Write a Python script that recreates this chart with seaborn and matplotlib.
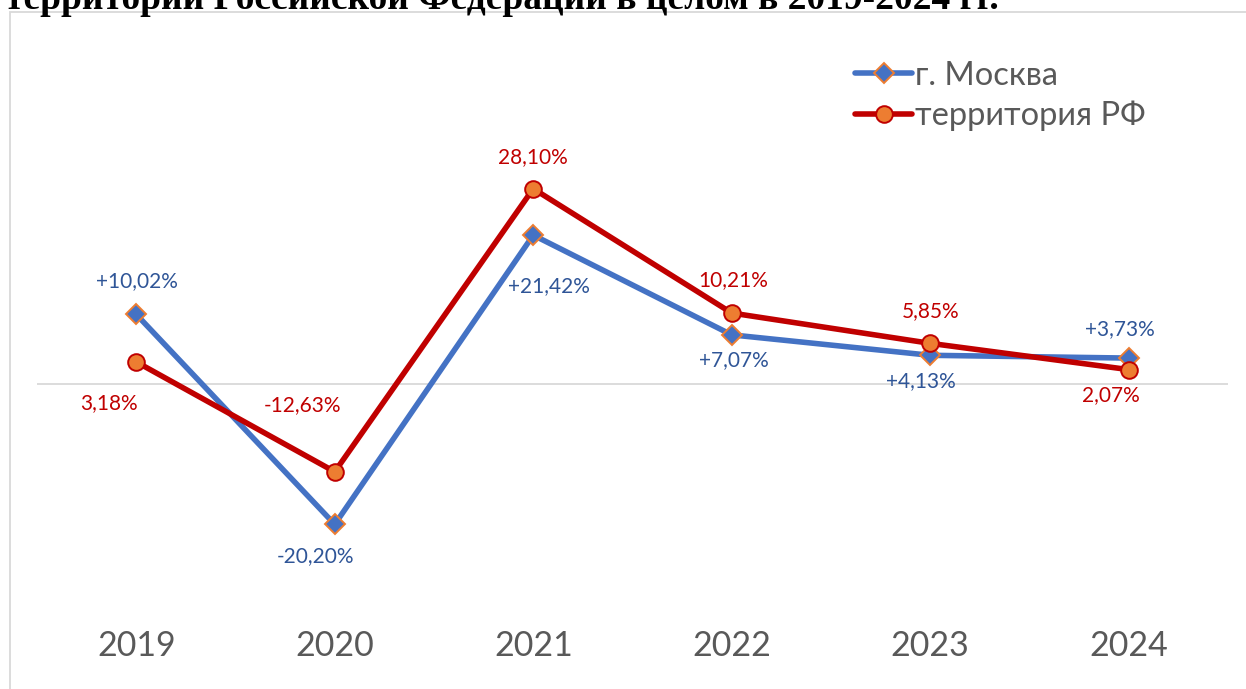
import matplotlib
matplotlib.use("Agg")
import matplotlib.pyplot as plt
import seaborn as sns
import pandas as pd
from matplotlib.patches import Rectangle

# ---- data ----
years = ["2019", "2020", "2021", "2022", "2023", "2024"]
moscow = [10.02, -20.20, 21.42, 7.07, 4.13, 3.73]
russia = [3.18, -12.63, 28.10, 10.21, 5.85, 2.07]
moscow_labels = ["+10,02%", "-20,20%", "+21,42%", "+7,07%", "+4,13%", "+3,73%"]
russia_labels = ["3,18%", "-12,63%", "28,10%", "10,21%", "5,85%", "2,07%"]
series_names = ["г. Москва", "территория РФ"]
title = "территории Российской Федерации в целом в 2019-2024 гг."

# ---- label offsets (points) ----
moscow_off = [(0.7, 23.8), (-13.7, -23), (11.5, -36.7), (1.4, -18), (-6.5, -18.7), (-6.5, 21)]
russia_off = [(-20, -29.5), (-23, 48), (0, 23), (1.4, 23.8), (0, 23), (-13, -18.7)]

sns.set_theme(style="white")
plt.rcParams["font.family"] = ["Lato", "DejaVu Sans"]

W, H = 1246, 689
fig = plt.figure(figsize=(W / 100, H / 100), dpi=100)
ax = fig.add_axes([37 / W, 1 - 620 / H, 1191 / W, 580 / H])

pos = list(range(len(years)))
df = pd.DataFrame({"pos": pos, "moscow": moscow, "russia": russia})

BLUE = "#4472C4"
RED = "#C00000"
ORANGE = "#ED7D31"

ax.axhline(0, color="#D9D9D9", lw=1.3, zorder=1)

sns.lineplot(data=df, x="pos", y="moscow", ax=ax, color=BLUE, lw=4.0,
             marker="D", markersize=10, markerfacecolor=BLUE,
             markeredgecolor=ORANGE, markeredgewidth=1.4,
             label=series_names[0], zorder=3)
sns.lineplot(data=df, x="pos", y="russia", ax=ax, color=RED, lw=4.0,
             marker="o", markersize=12, markerfacecolor=ORANGE,
             markeredgecolor=RED, markeredgewidth=1.4,
             label=series_names[1], zorder=4)

for i in pos:
    ax.annotate(moscow_labels[i], (i, moscow[i]), xytext=moscow_off[i],
                textcoords="offset points", ha="center", va="center",
                fontsize=15, color="#2F5597", zorder=5)
    ax.annotate(russia_labels[i], (i, russia[i]), xytext=russia_off[i],
                textcoords="offset points", ha="center", va="center",
                fontsize=15, color=RED, zorder=5)

ax.set_xlim(-0.5, 5.5)
ax.set_ylim(-33.96, 49.5)
ax.set_xticks(pos)
ax.set_xticklabels(years, fontsize=24.5, color="#595959")
ax.tick_params(axis="x", length=0, pad=7)
ax.set_yticks([])
ax.set_xlabel("")
ax.set_ylabel("")
for s in ax.spines.values():
    s.set_visible(False)
ax.patch.set_alpha(0)

ax.legend(loc="center left", bbox_to_anchor=(855 / W, 1 - 96 / H),
          bbox_transform=fig.transFigure, frameon=False, fontsize=23.5,
          handlelength=1.75, handletextpad=0.1, labelspacing=0.3,
          borderpad=0, borderaxespad=0, labelcolor="#595959")

# chart-area border
fig.patches.append(Rectangle((10 / W, -0.05), 1.2, 1 - 12 / H + 0.05,
                             transform=fig.transFigure, fill=False,
                             edgecolor="#D9D9D9", lw=1.3, zorder=0))

# cut-off title at the top
fig.text(5 / W, 1 - 9 / H, title, ha="left", va="baseline",
         fontfamily="Liberation Serif", fontweight="bold", fontsize=27,
         color="black")

fig.savefig("out.png", dpi=100)
